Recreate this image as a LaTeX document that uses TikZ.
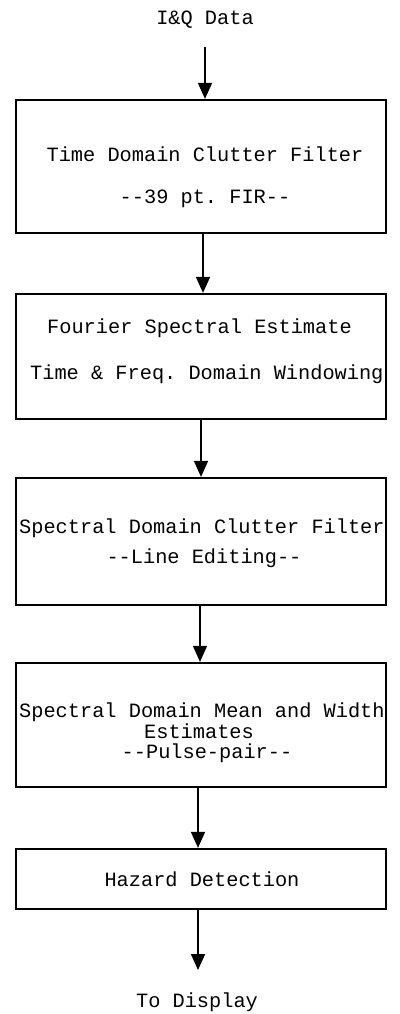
\documentclass[tikz,border=0pt]{standalone}
\usepackage{fontspec}
\setmonofont{Liberation Mono}
\usetikzlibrary{arrows.meta}
\begin{document}
\begin{tikzpicture}[x=1pt,y=-1pt,
  box/.style={draw, line width=2.2pt, minimum width=370pt, inner sep=0pt},
  lbl/.style={font=\ttfamily\fontsize{20.3}{22}\selectfont, inner sep=0pt, anchor=base},
  lblw/.style={lbl, anchor=base west},
  arr/.style={line width=1.6pt, -{Triangle[width=14pt,length=16pt]}}]
\useasboundingbox (0,0) rectangle (399,1014);

% processing stages
\node[box, minimum height=133pt] (b1) at (201,166.5) {};
\node[box, minimum height=125pt] (b2) at (201,356.5) {};
\node[box, minimum height=127pt] (b3) at (201,541.5) {};
\node[box, minimum height=124pt] (b4) at (201,725) {};
\node[box, minimum height=60pt]  (b5) at (201,879) {};

% input and output labels
\node[lbl] (in) at (205,25) {I\&Q Data};
\node[lbl] (out) at (197,1007) {To Display};
\coordinate (inend) at (205,47);
\coordinate (outend) at (198,970);

% stage texts
\node[lbl]  (t1a) at (205,161) {Time Domain Clutter Filter};
\node[lbl]  (t1b) at (205,203) {-{}-39 pt. FIR-{}-};
\node[lblw] (t2a) at (47,333)  {Fourier Spectral Estimate};
\node[lblw] (t2b) at (30,379)  {Time \& Freq. Domain Windowing};
\node[lblw] (t3a) at (19,533)  {Spectral Domain Clutter Filter};
\node[lbl]  (t3b) at (204,563) {-{}-Line Editing-{}-};
\node[lblw] (t4a) at (19,717)  {Spectral Domain Mean and Width};
\node[lbl]  (t4b) at (199,738) {Estimates};
\node[lbl]  (t4c) at (207,758) {-{}-Pulse-pair-{}-};
\node[lbl]  (t5)  at (202,886) {Hazard Detection};

% flow arrows
\draw[arr] (inend) -- ([xshift=4pt]b1.north);
\draw[arr] ([xshift=2pt]b1.south) -- ([xshift=2pt]b2.north);
\draw[arr] ([xshift=0pt]b2.south) -- ([xshift=0pt]b3.north);
\draw[arr] ([xshift=-1pt]b3.south) -- ([xshift=-1pt]b4.north);
\draw[arr] ([xshift=-3pt]b4.south) -- ([xshift=-3pt]b5.north);
\draw[arr] ([xshift=-3pt]b5.south) -- (outend);
\end{tikzpicture}
\end{document}
